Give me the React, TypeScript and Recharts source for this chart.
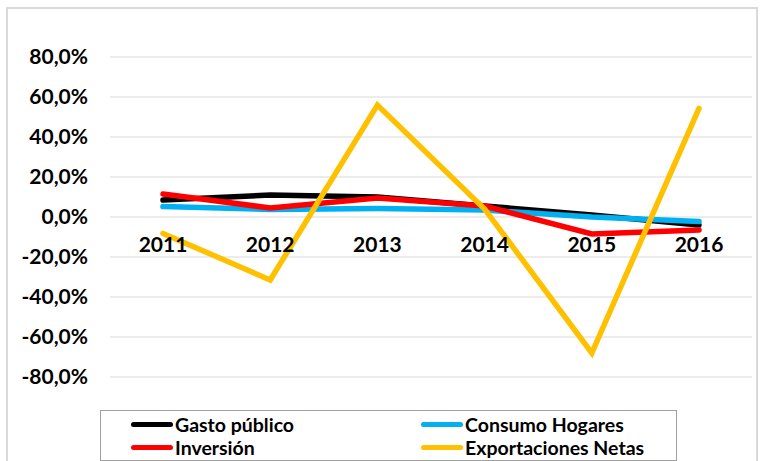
import { CartesianGrid, Line, LineChart, XAxis, YAxis } from "recharts";

const years = ["2011", "2012", "2013", "2014", "2015", "2016"];
const gastoPublico = [0.085, 0.11, 0.1, 0.055, 0.01, -0.04];
const consumoHogares = [0.052, 0.038, 0.042, 0.035, 0.0, -0.023];
const inversion = [0.115, 0.045, 0.095, 0.055, -0.085, -0.065];
const exportacionesNetas = [-0.082, -0.315, 0.56, 0.04, -0.68, 0.543];
const yTicks = [-0.8, -0.6, -0.4, -0.2, 0, 0.2, 0.4, 0.6, 0.8];

const series = [
  { key: "gasto", name: "Gasto público", color: "#000000" },
  { key: "consumo", name: "Consumo Hogares", color: "#00b0f0" },
  { key: "inversion", name: "Inversión", color: "#ff0000" },
  { key: "export", name: "Exportaciones Netas", color: "#ffc000" },
];

const data = years.map((year, i) => ({
  year,
  gasto: gastoPublico[i],
  consumo: consumoHogares[i],
  inversion: inversion[i],
  export: exportacionesNetas[i],
}));

const FONT = "Lato, sans-serif";
const TOP = 57;
const PLOT_H = 320;
const ZERO_Y = TOP + PLOT_H / 2;

function pct(v: number): string {
  return `${(v * 100).toFixed(1).replace(".", ",")}%`;
}

function yearTick(props: any) {
  return (
    <text
      x={props.x}
      y={ZERO_Y + 35}
      textAnchor="middle"
      fontFamily={FONT}
      fontWeight="bold"
      fontSize={21}
      fill="#000"
    >
      {props.payload?.value}
    </text>
  );
}

export default function App() {
  return (
    <div style={{ position: "absolute", left: 0, top: 0, width: 761, height: 461, overflow: "hidden", background: "#fff" }}>
      <div
        style={{
          position: "absolute",
          left: 6,
          top: 7,
          width: 748,
          height: 480,
          border: "2px solid #d9d9d9",
        }}
      />
      <div style={{ position: "absolute", left: 0, top: 0 }}>
        <LineChart
          width={761}
          height={TOP + PLOT_H + 40}
          data={data}
          margin={{ top: TOP, right: 9, bottom: 10, left: 0 }}
        >
          <CartesianGrid vertical={false} stroke="#d9d9d9" strokeWidth={1.2} />
          <XAxis
            dataKey="year"
            height={30}
            axisLine={false}
            tickLine={false}
            padding={{ left: 53, right: 53 }}
            tick={yearTick}
            interval={0}
          />
          <YAxis
            domain={[-0.8, 0.8]}
            ticks={yTicks}
            width={110}
            axisLine={false}
            tickLine={false}
            tickSize={0}
            tickMargin={22}
            tickFormatter={pct}
            tick={{ fontFamily: FONT, fontWeight: "bold", fontSize: 21, fill: "#000" }}
          />
          {series.map((s) => (
            <Line
              key={s.key}
              dataKey={s.key}
              name={s.name}
              stroke={s.color}
              strokeWidth={5.5}
              dot={false}
              strokeLinecap="round"
              isAnimationActive={false}
            />
          ))}
        </LineChart>
      </div>
      <div
        style={{
          position: "absolute",
          left: 100,
          top: 410,
          width: 577,
          boxSizing: "border-box",
          border: "1.5px solid #a0a0a0",
          background: "#fff",
          display: "grid",
          gridTemplateColumns: "290px 250px",
          rowGap: 1,
          padding: "2px 0 2px 30px",
          fontFamily: FONT,
          fontWeight: "bold",
          fontSize: 19.5,
        }}
      >
        {series.map((s) => (
          <div key={s.key} style={{ display: "flex", alignItems: "center", height: 22 }}>
            <span
              style={{
                display: "inline-block",
                width: 42,
                height: 5,
                borderRadius: 3,
                background: s.color,
                marginRight: 2,
              }}
            />
            {s.name}
          </div>
        ))}
      </div>
    </div>
  );
}
